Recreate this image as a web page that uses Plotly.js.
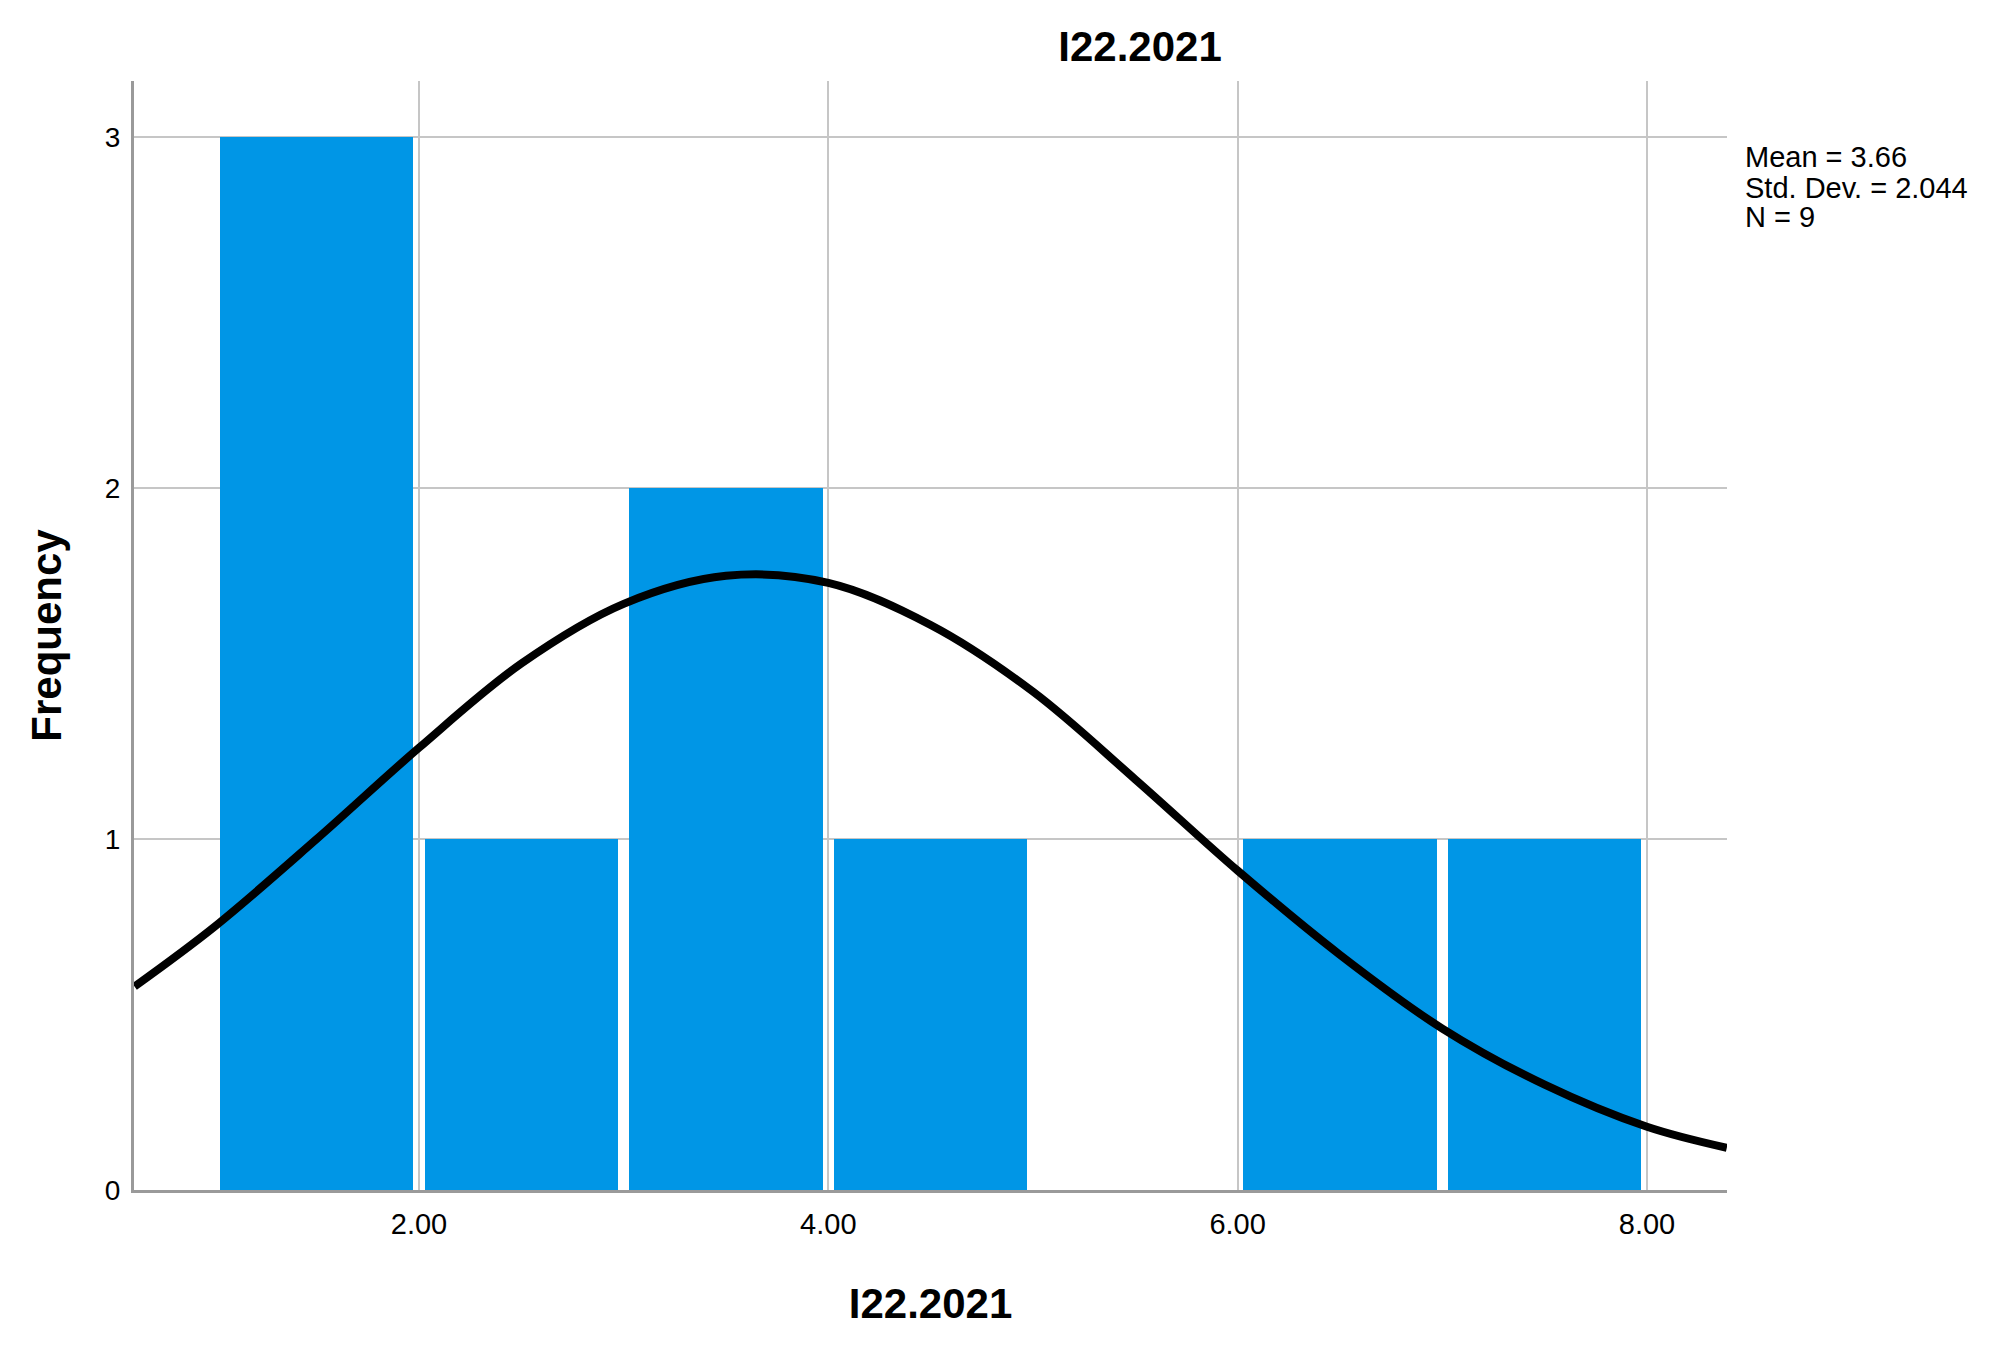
<!DOCTYPE html>
<html>
<head>
<meta charset="utf-8">
<script src="https://cdn.plot.ly/plotly-3.0.1.min.js"></script>
<style>html,body{margin:0;padding:0;background:#fff;}#chart{width:1991px;height:1352px;}</style>
</head>
<body>
<div id="chart"></div>
<script>
// Histogram bins (centres) and frequencies
const binCenters = [1.5, 2.5, 3.5, 4.5, 5.5, 6.5, 7.5];
const frequencies = [3, 1, 2, 1, 0, 1, 1];

// Normal curve points
const curveX = [0.61, 1.0, 1.5, 2.0, 2.5, 3.0, 3.5, 4.0, 4.5, 5.0, 5.5, 6.0, 6.5, 7.0, 7.5, 8.0, 8.39];
const curveY = [0.58, 0.75, 1.0, 1.26, 1.5, 1.67, 1.75, 1.73, 1.61, 1.42, 1.17, 0.91, 0.67, 0.46, 0.30, 0.18, 0.12];

// Tick labels
const xTickVals = [2, 4, 6, 8];
const xTickText = ["2.00", "4.00", "6.00", "8.00"];
const yTickVals = [0, 1, 2, 3];
const yTickText = ["0", "1", "2", "3"];

// Text
const chartTitle = "I22.2021";
const xTitle = "I22.2021";
const yTitle = "Frequency";
const statLines = ["Mean = 3.66", "Std. Dev. = 2.044", "N = 9"];

const font = "Liberation Sans, Arial, sans-serif";

const traces = [
  {
    type: "bar",
    x: binCenters,
    y: frequencies,
    width: 0.945,
    marker: { color: "#0096E6", line: { width: 0 } },
    hoverinfo: "x+y",
    showlegend: false
  },
  {
    type: "scatter",
    mode: "lines",
    x: curveX,
    y: curveY,
    line: { color: "#000000", width: 8, shape: "spline", smoothing: 1 },
    showlegend: false,
    hoverinfo: "skip"
  }
];

const statY = [0.9315, 0.9035, 0.8774];
const annotations = statLines.map((t, i) => ({
  text: t,
  xref: "paper", yref: "paper",
  x: 1.0101, y: statY[i],
  xanchor: "left", yanchor: "middle",
  showarrow: false,
  align: "left",
  font: { family: font, size: 29, color: "#000" }
}));

const layout = {
  width: 1991,
  height: 1352,
  paper_bgcolor: "#ffffff",
  plot_bgcolor: "#ffffff",
  margin: { l: 134, r: 264, t: 81, b: 162, pad: 0 },
  title: {
    text: "<b>" + chartTitle + "</b>",
    x: 1140 / 1991, xanchor: "center", xref: "container",
    y: 1 - 46 / 1352, yanchor: "middle", yref: "container",
    font: { family: font, size: 42, color: "#000" }
  },
  xaxis: {
    range: [0.6075, 8.391],
    tickvals: xTickVals,
    ticktext: xTickText,
    ticks: "",
    showgrid: true,
    gridcolor: "#c6c6c6",
    gridwidth: 2,
    zeroline: false,
    showline: true,
    linecolor: "#9a9a9a",
    linewidth: 3,
    ticklabelstandoff: 6,
    tickfont: { family: font, size: 29, color: "#000" },
    title: { text: "<b>" + xTitle + "</b>", standoff: 50, font: { family: font, size: 42, color: "#000" } },
    fixedrange: true
  },
  yaxis: {
    range: [0, 3.16],
    tickvals: yTickVals,
    ticktext: yTickText,
    ticks: "",
    showgrid: true,
    gridcolor: "#c6c6c6",
    gridwidth: 2,
    zeroline: false,
    showline: true,
    linecolor: "#9a9a9a",
    linewidth: 3,
    ticklabelstandoff: 5,
    tickfont: { family: font, size: 28, color: "#000" },
    title: { text: "<b>" + yTitle + "</b>", standoff: 31, font: { family: font, size: 42, color: "#000" } },
    fixedrange: true
  },
  annotations: annotations,
  bargap: 0
};

Plotly.newPlot("chart", traces, layout, { displayModeBar: false, staticPlot: true });
</script>
</body>
</html>
